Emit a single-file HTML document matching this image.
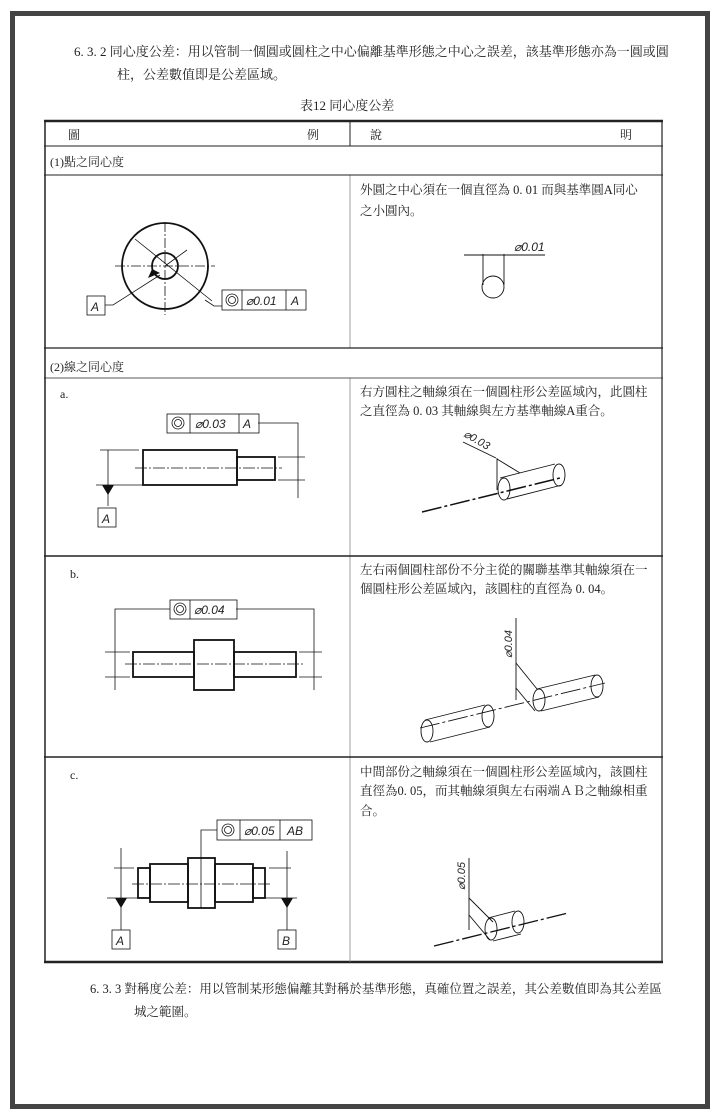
<!DOCTYPE html>
<html><head><meta charset="utf-8"><style>
html,body{margin:0;padding:0;background:#fff}
svg{display:block}
text{font-family:"Liberation Serif","Noto Serif CJK SC","Noto Sans CJK TC",serif;fill:#222}
.s{font-family:"Liberation Sans","Noto Sans CJK TC",sans-serif;font-style:italic}
</style></head><body>
<svg width="720" height="1120" viewBox="0 0 720 1120" xmlns="http://www.w3.org/2000/svg">
<rect x="12.5" y="13.5" width="695" height="1093" fill="none" stroke="#444" stroke-width="5"/>
<text x="74" y="56" font-size="13">6. 3. 2  同心度公差：用以管制一個圓或圓柱之中心偏離基準形態之中心之誤差，該基準形態亦為一圓或圓</text>
<text x="117" y="79" font-size="13">柱，公差數值即是公差區域。</text>
<text x="300" y="110" font-size="13">表12  同心度公差</text>
<g stroke="#222" fill="none">
<line x1="44" y1="121" x2="663" y2="121" stroke-width="2.5"/>
<line x1="44" y1="962" x2="663" y2="962" stroke-width="2.5"/>
<line x1="45" y1="121" x2="45" y2="962" stroke-width="1.5"/>
<line x1="662" y1="121" x2="662" y2="962" stroke-width="1.2"/>
<line x1="350" y1="121" x2="350" y2="146" stroke-width="1"/>
<line x1="350" y1="175" x2="350" y2="348" stroke-width="0.8" stroke="#888"/>
<line x1="350" y1="378" x2="350" y2="962" stroke-width="0.8" stroke="#888"/>
<line x1="44" y1="146" x2="663" y2="146" stroke-width="1"/>
<line x1="44" y1="175" x2="663" y2="175" stroke-width="1"/>
<line x1="44" y1="348" x2="663" y2="348" stroke-width="1.2"/>
<line x1="44" y1="378" x2="663" y2="378" stroke-width="0.8"/>
<line x1="44" y1="556" x2="663" y2="556" stroke-width="1.5"/>
<line x1="44" y1="757" x2="663" y2="757" stroke-width="1.5"/>
</g>
<text x="68" y="139" font-size="12">圖</text>
<text x="307" y="139" font-size="12">例</text>
<text x="370" y="139" font-size="12">說</text>
<text x="620" y="139" font-size="12">明</text>
<text x="50" y="166" font-size="12">(1)點之同心度</text>
<text x="50" y="371" font-size="12">(2)線之同心度</text>
<text x="60" y="398" font-size="12">a.</text>
<text x="70" y="578" font-size="12">b.</text>
<text x="70" y="779" font-size="12">c.</text>
<g font-size="12.5">
<text x="360" y="194">外圓之中心須在一個直徑為 0. 01 而與基準圓A同心</text>
<text x="360" y="215">之小圓內。</text>
<text x="360" y="396">右方圓柱之軸線須在一個圓柱形公差區域內，此圓柱</text>
<text x="360" y="415">之直徑為 0. 03 其軸線與左方基準軸線A重合。</text>
<text x="360" y="574">左右兩個圓柱部份不分主從的關聯基準其軸線須在一</text>
<text x="360" y="593">個圓柱形公差區域內，該圓柱的直徑為 0. 04。</text>
<text x="360" y="776">中間部份之軸線須在一個圓柱形公差區域內，該圓柱</text>
<text x="360" y="795">直徑為0. 05，而其軸線須與左右兩端ＡＢ之軸線相重</text>
<text x="360" y="815">合。</text>
</g>
<text x="90" y="993" font-size="12.5">6. 3. 3   對稱度公差：用以管制某形態偏離其對稱於基準形態，真確位置之誤差，其公差數值即為其公差區</text>
<text x="134" y="1016" font-size="12.5">城之範圍。</text>

<!-- fig 1 -->
<g stroke="#111" fill="none" stroke-width="1.8">
<circle cx="165" cy="266" r="43"/>
<circle cx="165" cy="266" r="13"/>
</g>
<g stroke="#111" fill="none" stroke-width="0.8">
<line x1="115" y1="266" x2="215" y2="266" stroke-dasharray="10,2,2,2"/>
<line x1="165" y1="222" x2="165" y2="315" stroke-dasharray="10,2,2,2"/>
<line x1="135" y1="239" x2="212" y2="301"/>
<line x1="165" y1="266" x2="187" y2="250"/>
<polyline points="105,305 113,305 160,275"/>
<polyline points="205,300 214,306 222,306"/>
<rect x="87" y="296" width="18" height="19"/>
<rect x="222" y="290" width="84" height="20"/>
<line x1="242" y1="290" x2="242" y2="310"/><line x1="286" y1="290" x2="286" y2="310"/>
<circle cx="232" cy="300" r="6"/><circle cx="232" cy="300" r="3.5"/>
</g>
<polygon points="152,269 160,273 148,278" fill="#111"/>
<text x="91" y="311" font-size="12" class="s">A</text>
<text x="246" y="305" font-size="12" class="s">⌀0.01</text>
<text x="291" y="305" font-size="12" class="s">A</text>
<!-- fig1 right -->
<g stroke="#111" fill="none" stroke-width="0.9">
<line x1="464" y1="255" x2="545" y2="255"/>
<line x1="483" y1="254" x2="483" y2="285"/><line x1="504" y1="254" x2="504" y2="285"/>
<circle cx="493" cy="287" r="11"/>
</g>
<text x="514" y="251" font-size="12" class="s">⌀0.01</text>

<!-- fig a -->
<g stroke="#111" fill="none" stroke-width="1.8">
<rect x="143" y="450" width="94" height="35"/>
<rect x="237" y="457" width="38" height="23"/>
</g>
<g stroke="#111" fill="none" stroke-width="0.8">
<line x1="135" y1="468" x2="282" y2="468" stroke-dasharray="12,2,2,2"/>
<line x1="100" y1="450" x2="139" y2="450"/>
<line x1="96" y1="485" x2="143" y2="485"/>
<line x1="108" y1="450" x2="108" y2="506"/>
<line x1="278" y1="457" x2="305" y2="457"/><line x1="278" y1="480" x2="305" y2="480"/>
<polyline points="258,423 298,423 298,498"/>
<rect x="98" y="508" width="18" height="19"/>
<rect x="167" y="414" width="92" height="19"/>
<line x1="190" y1="414" x2="190" y2="433"/><line x1="239" y1="414" x2="239" y2="433"/>
<circle cx="178" cy="423" r="6"/><circle cx="178" cy="423" r="3.5"/>
</g>
<polygon points="102,485 114,485 108,495" fill="#111"/>
<text x="102" y="523" font-size="12" class="s">A</text>
<text x="195" y="428" font-size="12" class="s">⌀0.03</text>
<text x="243" y="428" font-size="12" class="s">A</text>
<!-- a right -->
<g stroke="#111" fill="none" stroke-width="0.9">
<line x1="422" y1="512" x2="560" y2="478" stroke-width="1.5" stroke-dasharray="20,3,3,3"/>
<line x1="500" y1="478" x2="555" y2="464"/><line x1="507" y1="499" x2="562" y2="485"/>
<ellipse cx="504" cy="489" rx="6" ry="11"/><ellipse cx="559" cy="475" rx="6" ry="11"/>
<line x1="463" y1="442" x2="496" y2="458"/><line x1="497" y1="458" x2="497" y2="490"/>
<line x1="497" y1="459" x2="520" y2="473"/>
</g>
<text x="463" y="436" font-size="11" class="s" transform="rotate(30 463 436)">⌀0.03</text>

<!-- fig b -->
<g stroke="#111" fill="none" stroke-width="1.8">
<rect x="133" y="652" width="61" height="25"/>
<rect x="194" y="640" width="40" height="50"/>
<rect x="234" y="652" width="62" height="25"/>
</g>
<g stroke="#111" fill="none" stroke-width="0.8">
<line x1="125" y1="664" x2="305" y2="664" stroke-dasharray="12,2,2,2"/>
<line x1="105" y1="652" x2="130" y2="652"/><line x1="105" y1="677" x2="130" y2="677"/>
<line x1="299" y1="652" x2="322" y2="652"/><line x1="299" y1="677" x2="322" y2="677"/>
<polyline points="170,609 115,609 115,690"/>
<polyline points="236,609 314,609 314,690"/>
<rect x="170" y="600" width="67" height="19"/>
<line x1="190" y1="600" x2="190" y2="619"/>
<circle cx="180" cy="609" r="6"/><circle cx="180" cy="609" r="3.5"/>
</g>
<text x="194" y="614" font-size="12" class="s">⌀0.04</text>
<!-- b right -->
<g stroke="#111" fill="none" stroke-width="0.9">
<line x1="420" y1="728" x2="605" y2="683" stroke-dasharray="20,3,3,3"/>
<line x1="425" y1="720" x2="485" y2="705"/><line x1="430" y1="742" x2="490" y2="727"/>
<ellipse cx="427" cy="731" rx="6" ry="11"/><ellipse cx="488" cy="716" rx="6" ry="11"/>
<line x1="537" y1="689" x2="595" y2="675"/><line x1="541" y1="711" x2="599" y2="697"/>
<ellipse cx="539" cy="700" rx="6" ry="11"/><ellipse cx="597" cy="686" rx="6" ry="11"/>
<line x1="516" y1="618" x2="516" y2="700"/>
<line x1="516" y1="663" x2="537" y2="689"/><line x1="516" y1="688" x2="535" y2="711"/>
</g>
<text x="512" y="658" font-size="11" class="s" transform="rotate(-90 512 658)">⌀0.04</text>

<!-- fig c -->
<g stroke="#111" fill="none" stroke-width="1.8">
<rect x="138" y="868" width="12" height="30"/>
<rect x="150" y="864" width="38" height="38"/>
<rect x="188" y="858" width="27" height="50"/>
<rect x="215" y="864" width="38" height="38"/>
<rect x="253" y="868" width="12" height="30"/>
</g>
<g stroke="#111" fill="none" stroke-width="0.8">
<line x1="132" y1="884" x2="272" y2="884" stroke-dasharray="12,2,2,2"/>
<line x1="114" y1="868" x2="134" y2="868"/><line x1="107" y1="898" x2="138" y2="898"/>
<line x1="269" y1="868" x2="291" y2="868"/><line x1="265" y1="898" x2="297" y2="898"/>
<line x1="121" y1="848" x2="121" y2="930"/><line x1="287" y1="851" x2="287" y2="930"/>
<polyline points="217,830 201,830 201,908"/>
<rect x="112" y="930" width="18" height="19"/>
<rect x="278" y="930" width="18" height="19"/>
<rect x="217" y="820" width="95" height="20"/>
<line x1="240" y1="820" x2="240" y2="840"/><line x1="280" y1="820" x2="280" y2="840"/>
<circle cx="228" cy="830" r="6"/><circle cx="228" cy="830" r="3.5"/>
</g>
<polygon points="115,898 127,898 121,908" fill="#111"/>
<polygon points="281,898 293,898 287,908" fill="#111"/>
<text x="116" y="945" font-size="12" class="s">A</text>
<text x="282" y="945" font-size="12" class="s">B</text>
<text x="244" y="835" font-size="12" class="s">⌀0.05</text>
<text x="287" y="835" font-size="12" class="s">AB</text>
<!-- c right -->
<g stroke="#111" fill="none" stroke-width="0.9">
<line x1="434" y1="946" x2="568" y2="913" stroke-width="1.3" stroke-dasharray="20,3,3,3"/>
<line x1="488" y1="918" x2="515" y2="911"/><line x1="493" y1="941" x2="521" y2="934"/>
<ellipse cx="491" cy="929" rx="6" ry="11"/><ellipse cx="518" cy="922" rx="6" ry="11"/>
<line x1="469" y1="858" x2="469" y2="930"/>
<line x1="469" y1="898" x2="493" y2="922"/><line x1="469" y1="915" x2="490" y2="940"/>
</g>
<text x="465" y="890" font-size="11" class="s" transform="rotate(-90 465 890)">⌀0.05</text>
</svg>
</body></html>
